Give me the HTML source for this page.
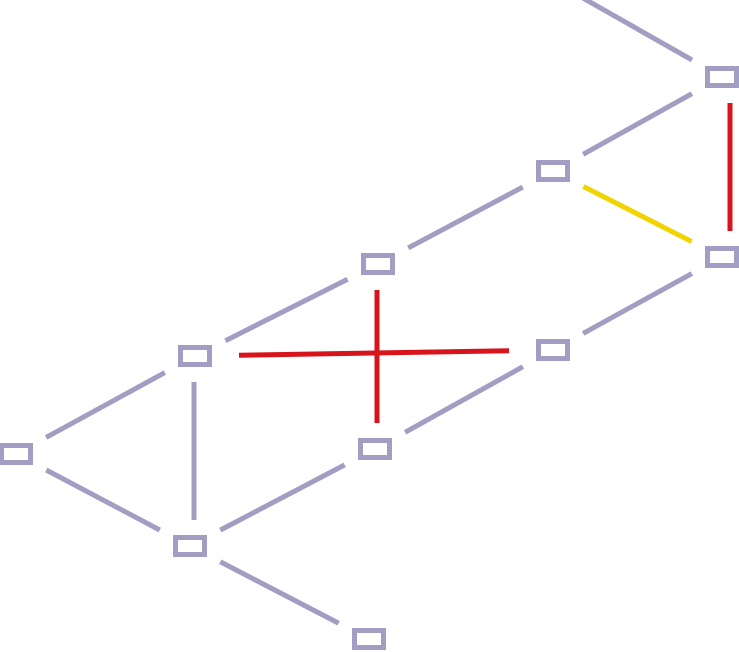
<!DOCTYPE html>
<html><head><meta charset="utf-8"><style>
html,body{margin:0;padding:0;background:#fff;width:739px;height:652px;overflow:hidden}
svg{display:block}
</style></head><body>
<svg id="g" width="739" height="652" viewBox="0 0 739 652"></svg>
<script>
const nodeIds = ["A","B","C","D","E","F","G","H","I","J","T"];
const nodeX = [16,195,190,378,375,553,553,722,722,369,553];
const nodeY = [454,356,546,264,449,171,350,77,257,639,-19];
const nodeVisible = [1,1,1,1,1,1,1,1,1,1,0];
const edgeFrom = ["A","A","B","B","C","C","D","E","F","G","T","B","D","H","F"];
const edgeTo   = ["B","C","C","D","E","J","F","G","H","I","H","G","E","I","I"];
const edgeKind = ["n","n","n","n","n","n","n","n","n","n","n","r","r","r","y"];
// styling offsets (not data)
const edgeFromDX = [0,0,-1,0,0,0,0,0,0,0,0,0,-1,8,0];
const edgeToDX   = [0,0,4,0,0,0,0,0,0,0,0,0,2,8,0];
const edgeExtraPad = [0,0,0,0,0,0,0,0,0,0,0,12,0,0,0];
const colors = {n:"#a29dc2", r:"#d7141c", y:"#f0d400"};
const svg = document.getElementById('g');
const NS = "http://www.w3.org/2000/svg";
const HW = 17, HH = 11, PAD = 15;
function pos(id){const i=nodeIds.indexOf(id);return [nodeX[i],nodeY[i]];}
function boxDist(dx,dy){
  const ax=Math.abs(dx), ay=Math.abs(dy), L=Math.hypot(dx,dy);
  const tx = ax>0 ? HW/ax : Infinity, ty = ay>0 ? HH/ay : Infinity;
  return Math.min(tx,ty)*L;
}
edgeFrom.forEach((f,k)=>{
  let [x1,y1]=pos(f), [x2,y2]=pos(edgeTo[k]);
  x1+=edgeFromDX[k]; x2+=edgeToDX[k];
  const dx=x2-x1, dy=y2-y1, L=Math.hypot(dx,dy);
  const ux=dx/L, uy=dy/L;
  const g = boxDist(dx,dy)+PAD+edgeExtraPad[k];
  const ln=document.createElementNS(NS,'line');
  ln.setAttribute('x1',x1+ux*g); ln.setAttribute('y1',y1+uy*g);
  ln.setAttribute('x2',x2-ux*g); ln.setAttribute('y2',y2-uy*g);
  ln.setAttribute('stroke',colors[edgeKind[k]]);
  ln.setAttribute('stroke-width',5);
  
  
  svg.appendChild(ln);
});
nodeIds.forEach((id,i)=>{
  if(!nodeVisible[i]) return;
  const r=document.createElementNS(NS,'rect');
  r.setAttribute('x',nodeX[i]-HW+2.5); r.setAttribute('y',nodeY[i]-HH+2.5);
  r.setAttribute('width',2*HW-5); r.setAttribute('height',2*HH-5);
  r.setAttribute('fill','none'); r.setAttribute('stroke',colors.n); r.setAttribute('stroke-width',5);
  
  
  svg.appendChild(r);
});
</script>
</body></html>
